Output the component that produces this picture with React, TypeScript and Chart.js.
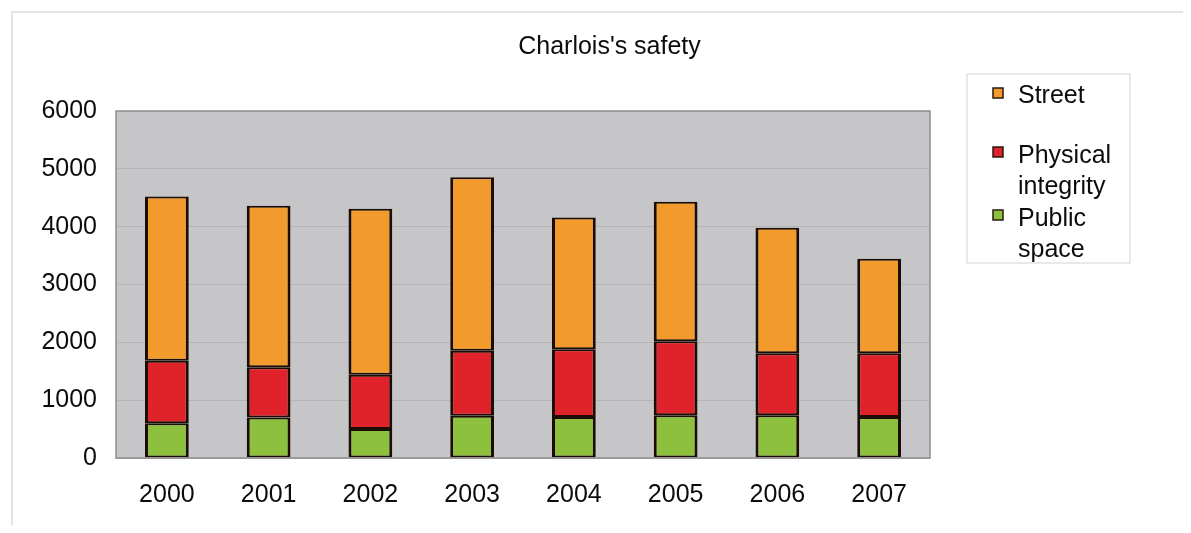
import React, { useEffect, useRef } from "react";
import { Chart, registerables } from "chart.js";

Chart.register(...registerables);

const years = ["2000", "2001", "2002", "2003", "2004", "2005", "2006", "2007"];
const publicSpace = [600, 700, 500, 730, 710, 740, 740, 710];
const physicalIntegrity = [1080, 870, 940, 1125, 1170, 1280, 1070, 1100];
const street = [2840, 2790, 2870, 3000, 2280, 2410, 2170, 1635];
const titleText = "Charlois's safety";
const legendItems: { lines: string[]; color: string }[] = [
  { lines: ["Street"], color: "#F39A2C" },
  { lines: ["Physical", "integrity"], color: "#E0222A" },
  { lines: ["Public", "space"], color: "#8DC03C" },
];

const FONT = "'Liberation Sans', Arial, sans-serif";
const TEXT = "#0c0c0c";

export default function App() {
  const ref = useRef<HTMLCanvasElement | null>(null);

  useEffect(() => {
    if (!ref.current) return;
    const decor = {
      id: "decor",
      beforeDraw(chart: any) {
        const { ctx, chartArea: a } = chart;
        ctx.save();
        ctx.strokeStyle = "#e4e4e4";
        ctx.lineWidth = 2;
        ctx.beginPath();
        ctx.moveTo(4, chart.height);
        ctx.lineTo(4, 4);
        ctx.lineTo(chart.width, 4);
        ctx.stroke();
        ctx.fillStyle = "#c6c6c8";
        ctx.fillRect(a.left, a.top, a.right - a.left, a.bottom - a.top);
        ctx.restore();
      },
      afterDraw(chart: any) {
        const { ctx, chartArea: a } = chart;
        ctx.save();
        ctx.strokeStyle = "#8e8e8e";
        ctx.lineWidth = 1.5;
        ctx.strokeRect(a.left, a.top, a.right - a.left, a.bottom - a.top);
        ctx.fillStyle = TEXT;
        ctx.font = `25px ${FONT}`;
        ctx.textAlign = "center";
        ctx.textBaseline = "alphabetic";
        ctx.fillText(titleText, 601.5, 46);
        ctx.strokeStyle = "#e2e2e2";
        ctx.lineWidth = 1.5;
        ctx.strokeRect(959, 66, 163, 189);
        ctx.textAlign = "left";
        const baselines = [[95], [155, 186], [218, 249]];
        const squareTops = [80, 139, 202];
        legendItems.forEach((it, i) => {
          ctx.fillStyle = it.color;
          ctx.fillRect(985, squareTops[i], 10, 10);
          ctx.strokeStyle = "#2a1a10";
          ctx.lineWidth = 1.5;
          ctx.strokeRect(985, squareTops[i], 10, 10);
          ctx.fillStyle = TEXT;
          it.lines.forEach((ln, j) => ctx.fillText(ln, 1010, baselines[i][j]));
        });
        ctx.restore();
      },
    };

    const common = {
      borderColor: "#1c0d04",
      borderWidth: { left: 3, right: 3, top: 2, bottom: 2 },
      borderSkipped: false,
      categoryPercentage: 1,
      barPercentage: 0.43,
    };

    const chart = new Chart(ref.current, {
      type: "bar",
      data: {
        labels: years,
        datasets: [
          { label: "Public space", data: publicSpace, backgroundColor: "#8DC03C", ...common },
          { label: "Physical integrity", data: physicalIntegrity, backgroundColor: "#E0222A", ...common },
          { label: "Street", data: street, backgroundColor: "#F39A2C", ...common },
        ],
      } as any,
      options: {
        animation: false,
        responsive: false,
        maintainAspectRatio: false,
        layout: { padding: { top: 103, right: 253, bottom: 0, left: 0 } },
        plugins: {
          legend: { display: false },
          title: { display: false },
          tooltip: { enabled: false },
        },
        scales: {
          x: {
            stacked: true,
            grid: { display: false, drawTicks: false },
            border: { display: false },
            ticks: {
              color: TEXT,
              font: { family: FONT, size: 25 },
              padding: 22,
              maxRotation: 0,
            },
            afterFit(s: any) {
              s.height = 67;
            },
          },
          y: {
            stacked: true,
            min: 0,
            max: 6000,
            grid: { color: "#b4b4b6", lineWidth: 1, drawTicks: false },
            border: { display: false },
            ticks: {
              stepSize: 1000,
              color: TEXT,
              font: { family: FONT, size: 25 },
              padding: 19,
              callback: (v: any) => String(v),
            },
            afterFit(s: any) {
              s.width = 108;
            },
          },
        },
      } as any,
      plugins: [decor],
    });
    return () => chart.destroy();
  }, []);

  return (
    <div style={{ width: 1175, height: 517 }}>
      <canvas ref={ref} width={1175} height={517} style={{ width: 1175, height: 517, display: "block" }} />
    </div>
  );
}
